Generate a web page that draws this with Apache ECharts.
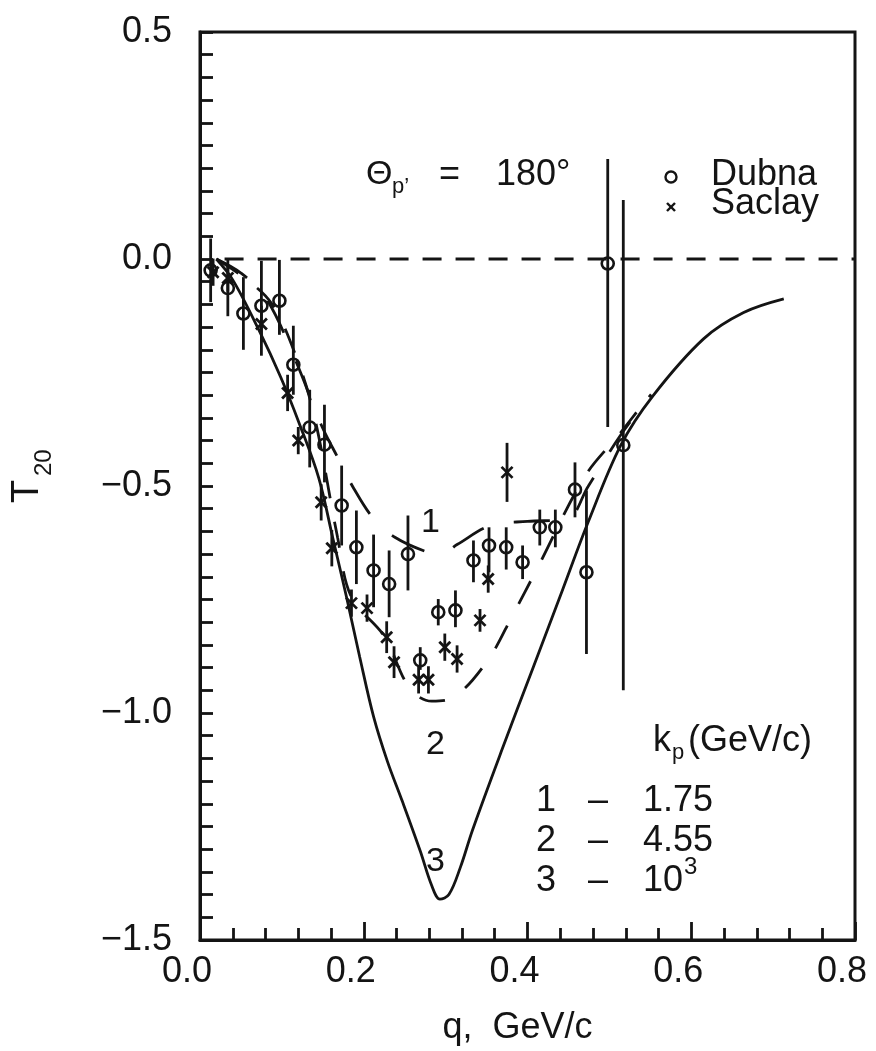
<!DOCTYPE html>
<html>
<head>
<meta charset="utf-8">
<script src="https://cdn.jsdelivr.net/npm/echarts@6/dist/echarts.min.js"></script>
<style>
html, body { margin: 0; padding: 0; background: #fff; }
#chart { width: 876px; height: 1051px; }
</style>
</head>
<body>
<div id="chart"></div>
<script>
// Dubna points: q, T20, lower and upper end of the error bar
const dubnaQ = [0.013, 0.034, 0.053, 0.075, 0.097, 0.114, 0.134, 0.152, 0.173, 0.191, 0.212, 0.231, 0.254, 0.269, 0.291, 0.312, 0.334, 0.353, 0.374, 0.394, 0.415, 0.434, 0.458, 0.472, 0.498, 0.517]
const dubnaT = [-0.025, -0.064, -0.12, -0.103, -0.092, -0.233, -0.371, -0.409, -0.543, -0.635, -0.686, -0.716, -0.65, -0.884, -0.778, -0.774, -0.664, -0.631, -0.635, -0.668, -0.591, -0.591, -0.508, -0.69, -0.01, -0.41]
const dubnaLow = [-0.095, -0.126, -0.2, -0.213, -0.167, -0.299, -0.459, -0.492, -0.631, -0.716, -0.767, -0.789, -0.73, -0.905, -0.807, -0.811, -0.712, -0.69, -0.684, -0.705, -0.631, -0.635, -0.569, -0.87, -0.37, -0.95]
const dubnaHigh = [0.045, -0.002, -0.04, -0.004, -0.002, -0.147, -0.288, -0.321, -0.455, -0.554, -0.607, -0.642, -0.565, -0.855, -0.749, -0.73, -0.62, -0.591, -0.591, -0.631, -0.552, -0.552, -0.448, -0.51, 0.22, 0.13]

// Saclay points: q, T20, half error
const saclayQ = [0.016, 0.034, 0.075, 0.107, 0.12, 0.148, 0.161, 0.185, 0.204, 0.228, 0.237, 0.267, 0.279, 0.299, 0.314, 0.342, 0.352, 0.375]
const saclayT = [-0.029, -0.042, -0.143, -0.295, -0.4, -0.536, -0.637, -0.758, -0.769, -0.833, -0.888, -0.927, -0.927, -0.855, -0.881, -0.796, -0.705, -0.47]
const saclayErr = [0.03, 0.03, 0.04, 0.04, 0.03, 0.04, 0.04, 0.03, 0.03, 0.035, 0.035, 0.03, 0.03, 0.03, 0.03, 0.025, 0.03, 0.065]

// theory curves, k_p = 1.75, 4.55, 10^3 GeV/c
const curve1Q = [0.02, 0.05, 0.081, 0.118, 0.148, 0.169, 0.188, 0.212, 0.238, 0.277, 0.296, 0.314, 0.355, 0.4, 0.448, 0.474, 0.513, 0.551]
const curve1T = [0, -0.031, -0.087, -0.229, -0.365, -0.44, -0.506, -0.572, -0.613, -0.645, -0.649, -0.629, -0.587, -0.578, -0.573, -0.501, -0.39, -0.298]
const curve2Q = [0.02, 0.05, 0.087, 0.118, 0.14, 0.168, 0.185, 0.225, 0.256, 0.283, 0.309, 0.351, 0.382, 0.412, 0.47, 0.513, 0.551]
const curve2T = [0, -0.036, -0.097, -0.218, -0.349, -0.613, -0.745, -0.831, -0.945, -0.974, -0.966, -0.885, -0.784, -0.681, -0.479, -0.384, -0.296]
const curve3Q = [0.02, 0.04, 0.071, 0.099, 0.121, 0.145, 0.162, 0.179, 0.195, 0.212, 0.229, 0.247, 0.269, 0.283, 0.293, 0.304, 0.318, 0.333, 0.369, 0.406, 0.443, 0.474, 0.514, 0.553, 0.615, 0.664, 0.713]
const curve3T = [0, -0.046, -0.153, -0.262, -0.361, -0.482, -0.613, -0.745, -0.876, -1.008, -1.107, -1.194, -1.304, -1.38, -1.41, -1.4, -1.34, -1.257, -1.08, -0.904, -0.728, -0.58, -0.41, -0.302, -0.176, -0.118, -0.088]

// dashed T20 = 0 reference line
const zeroQ = [0.03, 0.8]

const ink = '#141414'
const font = "'Liberation Sans', Arial, sans-serif"

const pairs = (xs, ys) => xs.map((x, i) => [x, ys[i]])

const curveSeries = (q, t, type) => ({
	type: 'line',
	data: pairs(q, t),
	smooth: 0.35,
	symbol: 'none',
	silent: true,
	lineStyle: { color: ink, width: 2.8, type: type },
})

const txt = (text, x, y, size, extra) => ({
	type: 'text',
	x: x,
	y: y,
	silent: true,
	...extra,
	style: { text: text, font: size + 'px ' + font, fill: ink, verticalAlign: 'middle', align: 'left' },
})

let option = {
	animation: false,
	backgroundColor: '#fff',
	grid: {
		left: 200,
		right: 21,
		top: 32,
		bottom: 111,
		show: true,
		borderColor: ink,
		borderWidth: 3,
	},
	xAxis: {
		type: 'value',
		min: 0,
		max: 0.8,
		interval: 0.2,
		axisLine: { onZero: false, lineStyle: { color: ink, width: 3 } },
		axisTick: { inside: true, length: 18, lineStyle: { color: ink, width: 2.8 } },
		minorTick: { show: true, splitNumber: 5, length: 12, lineStyle: { color: ink, width: 2.8 } },
		splitLine: { show: false },
		axisLabel: {
			color: ink,
			fontSize: 36,
			fontFamily: font,
			margin: 14,
			padding: [0, 26, 0, 0],
			formatter: (v) => v.toFixed(1),
		},
		name: 'q,  GeV/c',
		nameLocation: 'middle',
		nameGap: 70,
		nameTextStyle: { color: ink, fontSize: 36, fontFamily: font, padding: [0, 20, 0, 0] },
	},
	yAxis: {
		type: 'value',
		min: -1.5,
		max: 0.5,
		interval: 0.5,
		axisLine: { onZero: false, lineStyle: { color: ink, width: 3 } },
		axisTick: { inside: true, length: 13, lineStyle: { color: ink, width: 2.8 } },
		minorTick: { show: true, splitNumber: 10, length: 13, lineStyle: { color: ink, width: 2.8 } },
		splitLine: { show: false },
		axisLabel: {
			color: ink,
			fontSize: 36,
			fontFamily: font,
			margin: 28,
			formatter: (v) => (v < 0 ? '\u2212' : '') + Math.abs(v).toFixed(1),
		},
	},
	series: [
		{
			type: 'line',
			data: zeroQ.map((q) => [q, 0]),
			symbol: 'none',
			silent: true,
			lineStyle: { color: ink, width: 2.8, type: [19, 14] },
		},
		curveSeries(curve3Q, curve3T, 'solid'),
		curveSeries(curve1Q, curve1T, [36, 31]),
		curveSeries(curve2Q, curve2T, [26, 24]),
		{
			name: 'Dubna',
			type: 'custom',
			data: dubnaQ.map((q, i) => [q, dubnaT[i], dubnaLow[i], dubnaHigh[i]]),
			renderItem: function (params, api) {
				const p = api.coord([api.value(0), api.value(1)])
				const lo = api.coord([api.value(0), api.value(2)])
				const hi = api.coord([api.value(0), api.value(3)])
				return {
					type: 'group',
					children: [
						{ type: 'line', shape: { x1: p[0], y1: hi[1], x2: p[0], y2: lo[1] }, style: { stroke: ink, lineWidth: 2.8 } },
						{ type: 'circle', shape: { cx: p[0], cy: p[1], r: 6 }, style: { fill: 'none', stroke: ink, lineWidth: 2.6 } },
					],
				}
			},
		},
		{
			name: 'Saclay',
			type: 'custom',
			data: saclayQ.map((q, i) => [q, saclayT[i], saclayErr[i]]),
			renderItem: function (params, api) {
				const p = api.coord([api.value(0), api.value(1)])
				const lo = api.coord([api.value(0), api.value(1) - api.value(2)])
				const hi = api.coord([api.value(0), api.value(1) + api.value(2)])
				const s = 5.5
				const st = { stroke: ink, lineWidth: 2.8 }
				return {
					type: 'group',
					children: [
						{ type: 'line', shape: { x1: p[0], y1: hi[1], x2: p[0], y2: lo[1] }, style: st },
						{ type: 'line', shape: { x1: p[0] - s, y1: p[1] - s, x2: p[0] + s, y2: p[1] + s }, style: st },
						{ type: 'line', shape: { x1: p[0] - s, y1: p[1] + s, x2: p[0] + s, y2: p[1] - s }, style: st },
					],
				}
			},
		},
	],
	graphic: [
		// axis title T20, rotated
		txt('T', 28, 503, 38, { rotation: Math.PI / 2 }),
		txt('20', 44, 476, 24, { rotation: Math.PI / 2 }),
		// angle
		txt('\u0398', 366, 175, 34),
		txt('p\u2019', 392, 187, 22),
		txt('=', 439, 175, 36),
		txt('180\u00b0', 496, 175, 36),
		// legend
		{ type: 'circle', shape: { cx: 671, cy: 177, r: 5.5 }, style: { fill: 'none', stroke: ink, lineWidth: 2.4 } },
		txt('Dubna', 711, 175, 36),
		{ type: 'line', shape: { x1: 667, y1: 203, x2: 675, y2: 211 }, style: { stroke: ink, lineWidth: 2.4 } },
		{ type: 'line', shape: { x1: 667, y1: 211, x2: 675, y2: 203 }, style: { stroke: ink, lineWidth: 2.4 } },
		txt('Saclay', 711, 204, 36),
		// curve labels
		txt('1', 421, 523, 34),
		txt('2', 426, 745, 34),
		txt('3', 426, 862, 34),
		// k_p table
		txt('k', 653, 741, 36),
		txt('p', 672, 753, 22),
		txt('(GeV/c)', 688, 741, 36),
		txt('1', 536, 801, 36),
		txt('\u2013', 588, 801, 36),
		txt('1.75', 643, 801, 36),
		txt('2', 536, 841, 36),
		txt('\u2013', 588, 841, 36),
		txt('4.55', 643, 841, 36),
		txt('3', 536, 881, 36),
		txt('\u2013', 588, 881, 36),
		txt('10', 643, 881, 36),
		txt('3', 684, 867, 24),
	],
}

const myChart = echarts.init(document.getElementById('chart'), null, { renderer: 'canvas' })
myChart.setOption(option)
</script>
</body>
</html>
